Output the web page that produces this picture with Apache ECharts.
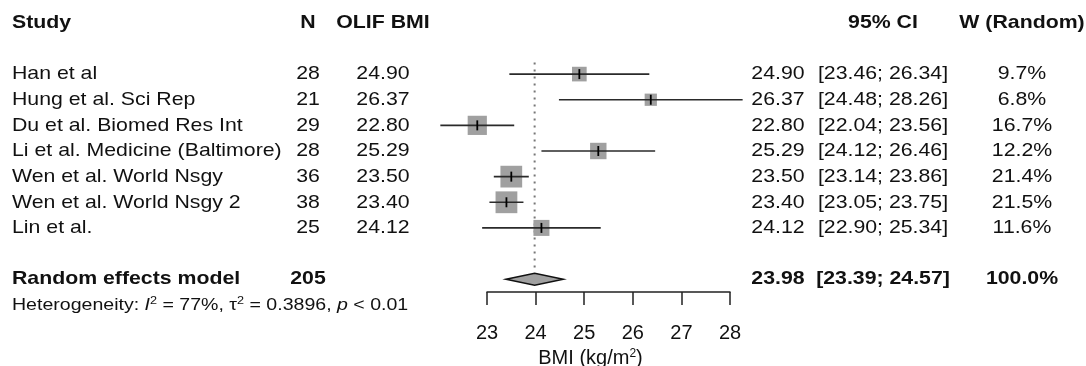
<!DOCTYPE html>
<html>
<head>
<meta charset="utf-8">
<script src="https://cdn.jsdelivr.net/npm/echarts@6/dist/echarts.min.js"></script>
<style>
  html, body { margin: 0; padding: 0; background: #fff; }
  #chart { width: 1086px; height: 366px; }
</style>
</head>
<body>
<div id="chart"></div>
<script>
// study data
const studies = [
  "Han et al",
  "Hung et al. Sci Rep",
  "Du et al. Biomed Res Int",
  "Li et al. Medicine (Baltimore)",
  "Wen et al. World Nsgy",
  "Wen et al. World Nsgy 2",
  "Lin et al.",
];
const nValues = [28, 21, 29, 28, 36, 38, 25];
const means = [24.90, 26.37, 22.80, 25.29, 23.50, 23.40, 24.12];
const ciLow = [23.46, 24.48, 22.04, 24.12, 23.14, 23.05, 22.90];
const ciHigh = [26.34, 28.26, 23.56, 26.46, 23.86, 23.75, 25.34];
const weights = [9.7, 6.8, 16.7, 12.2, 21.4, 21.5, 11.6];

// pooled (random effects) result
const pooledN = 205;
const pooledMean = 23.98;
const pooledLow = 23.39;
const pooledHigh = 24.57;
const pooledWeight = 100.0;

const xTicks = [23, 24, 25, 26, 27, 28];
const headers = ["Study", "N", "OLIF BMI", "95% CI", "W (Random)"];
const heterogeneity = "Heterogeneity: {it|I}{sup|2} = 77%, {g|τ}{sup|2} = 0.3896, {it|p} < 0.01";

const FONT = "'Liberation Sans', Arial, sans-serif";
const INK = "#111";
const STRETCH = 1.12; // the source text is a little wide

// table columns: [x, align]
const cols = {
  study: [12, "left"],
  n: [308, "center"],
  mean: [383, "center"],
  est: [778, "center"],
  ci: [883, "center"],
  w: [1022, "center"],
};

const fmtCI = (lo, hi) => "[" + lo.toFixed(2) + "; " + hi.toFixed(2) + "]";

// rows of text, y position is a row index on the y axis
const tableRows = [];
tableRows.push({
  row: -2, bold: true,
  cells: [["study", headers[0]], ["n", headers[1]], ["mean", headers[2]], ["ci", headers[3]], ["w", headers[4]]],
});
studies.forEach((s, i) => {
  tableRows.push({
    row: i, bold: false,
    cells: [
      ["study", s],
      ["n", String(nValues[i])],
      ["mean", means[i].toFixed(2)],
      ["est", means[i].toFixed(2)],
      ["ci", fmtCI(ciLow[i], ciHigh[i])],
      ["w", weights[i].toFixed(1) + "%"],
    ],
  });
});
tableRows.push({
  row: 8, bold: true,
  cells: [
    ["study", "Random effects model"],
    ["n", String(pooledN)],
    ["est", pooledMean.toFixed(2)],
    ["ci", fmtCI(pooledLow, pooledHigh)],
    ["w", pooledWeight.toFixed(1) + "%"],
  ],
});

const chart = echarts.init(document.getElementById("chart"));

function renderTable(params, api) {
  const r = tableRows[params.dataIndex];
  const y = api.coord([23, api.value(1)])[1];
  return {
    type: "group",
    children: r.cells.map(([key, txt]) => ({
      type: "text",
      x: cols[key][0],
      y: y,
      scaleX: STRETCH,
      style: {
        text: txt,
        fill: INK,
        font: (r.bold ? "bold " : "") + "19px " + FONT,
        align: cols[key][1],
        verticalAlign: "middle",
      },
    })),
  };
}

function renderStudy(params, api) {
  const y = api.coord([23, api.value(1)])[1];
  const xm = api.coord([api.value(0), 0])[0];
  const xl = api.coord([api.value(2), 0])[0];
  const xh = api.coord([api.value(3), 0])[0];
  const side = 4.7 * Math.sqrt(api.value(4));
  return {
    type: "group",
    children: [
      { type: "rect", shape: { x: xm - side / 2, y: y - side / 2, width: side, height: side },
        style: { fill: "#a0a0a0" } },
      { type: "line", shape: { x1: xl, y1: y, x2: xh, y2: y },
        style: { stroke: "#2a2a2a", lineWidth: 1.6 } },
      { type: "line", shape: { x1: xm, y1: y - 5, x2: xm, y2: y + 5 },
        style: { stroke: "#000", lineWidth: 1.8 } },
    ],
  };
}

function renderDiamond(params, api) {
  const y = api.coord([23, api.value(1)])[1];
  const xm = api.coord([api.value(0), 0])[0];
  const xl = api.coord([api.value(2), 0])[0];
  const xh = api.coord([api.value(3), 0])[0];
  return {
    type: "polygon",
    shape: { points: [[xl, y], [xm, y - 6], [xh, y], [xm, y + 6]] },
    style: { fill: "#a0a0a0", stroke: "#111", lineWidth: 1.5 },
  };
}

const option = {
  animation: false,
  backgroundColor: "#fff",
  textStyle: { fontFamily: FONT },
  grid: { left: 487, right: 356, top: 10, bottom: 74, outerBoundsMode: "none" },
  xAxis: {
    type: "value",
    min: 23,
    max: 28,
    interval: 1,
    axisLine: { onZero: false, lineStyle: { color: "#222", width: 1.5 } },
    axisTick: { inside: false, length: 13, lineStyle: { color: "#222", width: 1.5 } },
    axisLabel: { color: INK, fontSize: 20, margin: 31, fontFamily: FONT,
      customValues: xTicks },
    splitLine: { show: false },
    name: "BMI (kg/m{sup|2})",
    nameLocation: "middle",
    nameGap: 54,
    nameTextStyle: {
      color: INK, fontSize: 20, fontFamily: FONT, padding: [0, 36, 0, 0],
      rich: { sup: { fontSize: 12, padding: [0, 0, 10, 0], color: INK, fontFamily: FONT } },
    },
  },
  yAxis: { type: "value", inverse: true, min: -2.5, max: 8.5, show: false },
  graphic: [
    {
      type: "text",
      x: 12,
      y: 305,
      scaleX: 1.15,
      style: {
        text: heterogeneity,
        fill: INK,
        font: "17px " + FONT,
        verticalAlign: "middle",
        rich: {
          it: { fontStyle: "italic", fontSize: 17, fontFamily: FONT },
          g: { fontSize: 17, fontFamily: FONT },
          sup: { fontSize: 11, padding: [0, 0, 8, 0], fontFamily: FONT },
        },
      },
    },
  ],
  series: [
    {
      type: "line",
      data: [[pooledMean, -0.45], [pooledMean, 7.72]],
      symbol: "none",
      silent: true,
      lineStyle: { color: "#777", width: 2, type: [2, 5] },
      z: 1,
    },
    {
      type: "custom",
      renderItem: renderStudy,
      clip: false,
      data: studies.map((s, i) => [means[i], i, ciLow[i], ciHigh[i], weights[i]]),
      z: 3,
    },
    {
      type: "custom",
      renderItem: renderDiamond,
      clip: false,
      data: [[pooledMean, 8, pooledLow, pooledHigh]],
      z: 3,
    },
    {
      type: "custom",
      renderItem: renderTable,
      clip: false,
      data: tableRows.map((r) => [23, r.row]),
      z: 4,
    },
  ],
};

chart.setOption(option);
</script>
</body>
</html>
